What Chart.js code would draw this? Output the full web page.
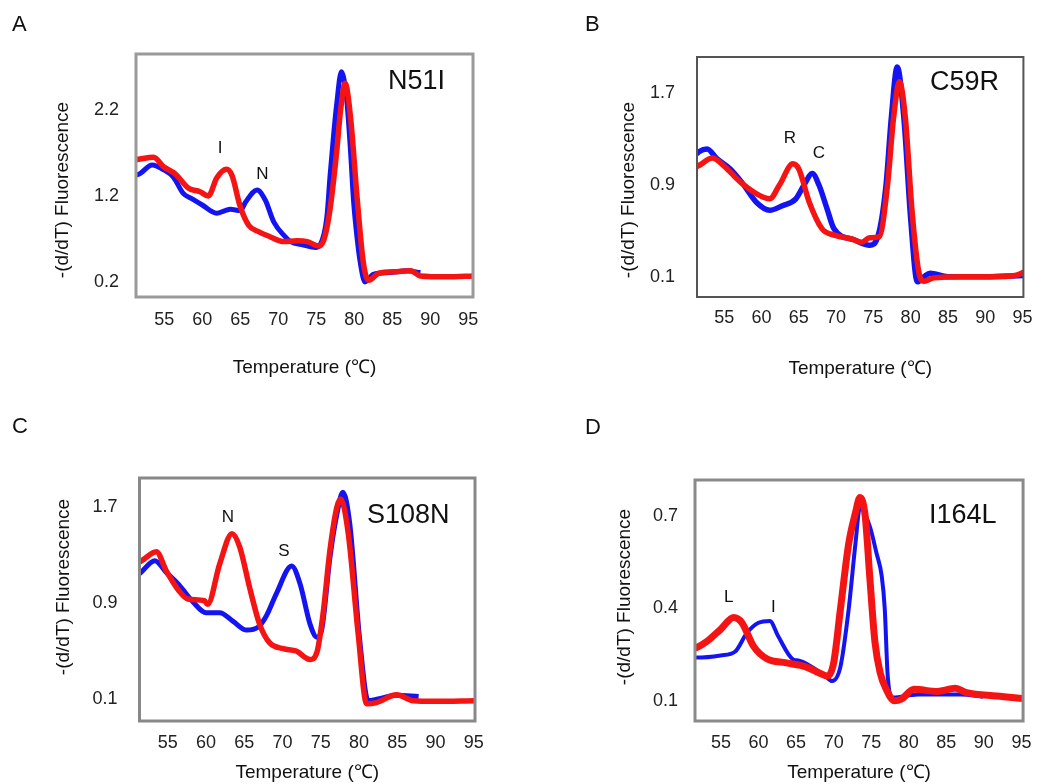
<!DOCTYPE html>
<html>
<head>
<meta charset="utf-8">
<script src="https://cdn.jsdelivr.net/npm/chart.js@4.4.0/dist/chart.umd.min.js"></script>
<style>
  body { margin: 0; background: #fff; }
  #wrap { position: relative; width: 1043px; height: 784px; }
  #wrap canvas { position: absolute; left: 0; top: 0; }
</style>
</head>
<body>
<div id="wrap">
  <canvas id="chart-a" width="1043" height="784"></canvas>
  <canvas id="chart-b" width="1043" height="784"></canvas>
  <canvas id="chart-c" width="1043" height="784"></canvas>
  <canvas id="chart-d" width="1043" height="784"></canvas>
</div>
<script>
// tick labels
const tempTicks = [55, 60, 65, 70, 75, 80, 85, 90, 95];
const yTicksA = [0.2, 1.2, 2.2];
const yTicksB = [0.1, 0.9, 1.7];
const yTicksC = [0.1, 0.9, 1.7];
const yTicksD = [0.1, 0.4, 0.7];

// A: N51I
const aBlueT = [51.2, 51.8, 53.4, 55.0, 56.2, 57.5, 58.6, 60.0, 61.9, 63.0, 63.7, 65.0, 65.7, 67.2, 68.3, 69.4, 70.9, 71.6, 73.3, 74.9, 75.5, 76.4, 76.8, 77.3, 77.7, 78.3, 79.0, 79.5, 79.9, 80.35, 80.8, 81.4, 82.5, 84.7, 86.9, 88.7];
const aBlueV = [1.44, 1.46, 1.56, 1.50, 1.42, 1.23, 1.17, 1.095, 1.0, 1.03, 1.045, 1.03, 1.13, 1.27, 1.15, 0.90, 0.727, 0.67, 0.63, 0.60, 0.63, 0.96, 1.42, 1.93, 2.28, 2.645, 2.32, 1.73, 1.15, 0.727, 0.42, 0.20, 0.29, 0.31, 0.33, 0.31];
const aRedT = [51.2, 51.8, 53.6, 54.9, 56.4, 58.2, 59.7, 60.8, 61.9, 63.2, 63.9, 65.0, 66.1, 67.4, 68.9, 70.7, 72.5, 73.8, 75.3, 76.0, 76.8, 77.7, 78.2, 78.8, 79.5, 80.4, 81.2, 81.9, 83.2, 85.6, 87.4, 88.7, 92.2, 95.8];
const aRedV = [1.62, 1.63, 1.65, 1.54, 1.46, 1.29, 1.25, 1.20, 1.41, 1.51, 1.44, 1.075, 0.86, 0.785, 0.727, 0.67, 0.68, 0.67, 0.62, 0.69, 1.04, 1.73, 2.2, 2.51, 2.12, 1.15, 0.42, 0.22, 0.30, 0.32, 0.33, 0.27, 0.26, 0.27];

// B: C59R
const bBlueT = [51.3, 51.6, 52.7, 54.0, 55.8, 57.5, 59.3, 61.1, 62.8, 64.6, 65.7, 66.8, 67.7, 68.8, 69.7, 72.5, 74.5, 75.6, 76.7, 77.4, 78.2, 79.1, 80.0, 80.9, 81.8, 82.6, 85.0, 90.0, 95.2];
const bBlueV = [1.17, 1.19, 1.215, 1.13, 1.04, 0.91, 0.75, 0.68, 0.72, 0.78, 0.90, 1.0, 0.90, 0.69, 0.52, 0.42, 0.375, 0.45, 0.90, 1.48, 1.93, 1.48, 0.61, 0.055, 0.10, 0.13, 0.10, 0.10, 0.11];
const bRedT = [51.3, 51.6, 53.4, 54.9, 57.1, 59.3, 61.1, 62.4, 64.2, 65.0, 66.4, 68.1, 69.9, 72.1, 73.4, 74.5, 75.8, 76.9, 77.7, 78.5, 79.3, 80.2, 81.1, 81.8, 83.1, 87.0, 91.0, 94.0, 95.2];
const bRedV = [1.06, 1.07, 1.135, 1.07, 0.93, 0.825, 0.78, 0.90, 1.085, 1.04, 0.75, 0.52, 0.46, 0.43, 0.40, 0.44, 0.45, 0.90, 1.48, 1.80, 1.48, 0.665, 0.14, 0.06, 0.09, 0.10, 0.10, 0.11, 0.14];

// C: S108N
const cBlueT = [51.2, 51.5, 53.3, 54.8, 56.5, 58.3, 60.0, 61.8, 63.5, 65.3, 66.8, 67.9, 69.2, 71.2, 72.3, 73.6, 74.5, 75.1, 76.2, 77.1, 77.9, 78.8, 80.1, 81.2, 82.5, 84.9, 87.8];
const cBlueV = [1.14, 1.157, 1.255, 1.157, 1.05, 0.91, 0.82, 0.82, 0.75, 0.675, 0.70, 0.795, 0.98, 1.21, 1.06, 0.725, 0.615, 0.67, 1.28, 1.64, 1.825, 1.56, 0.59, 0.085, 0.10, 0.13, 0.12];
const cRedT = [51.2, 51.5, 53.5, 54.8, 56.5, 57.6, 59.8, 60.2, 61.8, 63.4, 64.4, 65.7, 67.0, 68.3, 70.1, 71.8, 73.6, 74.5, 75.3, 76.2, 77.1, 77.6, 78.6, 79.9, 81.0, 82.3, 84.9, 87.1, 89.8, 95.3];
const cRedV = [1.24, 1.25, 1.33, 1.17, 1.0, 0.935, 0.92, 0.89, 1.23, 1.48, 1.37, 1.03, 0.725, 0.57, 0.52, 0.50, 0.43, 0.49, 0.81, 1.34, 1.70, 1.77, 1.48, 0.64, 0.06, 0.07, 0.135, 0.085, 0.08, 0.085];

// D: I164L
const dBlueT = [51.4, 51.7, 54.95, 56.9, 58.45, 60.0, 61.5, 62.6, 64.6, 65.4, 68.9, 69.8, 70.9, 72.0, 72.9, 73.5, 74.8, 75.7, 76.4, 76.8, 77.2, 77.9, 81.2, 86.9, 89.9];
const dBlueV = [0.24, 0.24, 0.247, 0.26, 0.32, 0.353, 0.359, 0.31, 0.234, 0.23, 0.18, 0.164, 0.21, 0.397, 0.61, 0.727, 0.667, 0.58, 0.505, 0.40, 0.18, 0.11, 0.12, 0.12, 0.113];
const dRedT = [51.4, 51.7, 53.2, 54.95, 56.7, 57.8, 59.3, 61.1, 63.7, 66.3, 68.1, 69.2, 70.0, 70.9, 72.0, 72.9, 73.5, 74.2, 74.8, 75.5, 76.2, 77.0, 78.1, 79.0, 80.7, 83.8, 86.2, 87.7, 91.7, 95.3];
const dRedV = [0.27, 0.272, 0.294, 0.332, 0.37, 0.353, 0.278, 0.236, 0.223, 0.21, 0.19, 0.18, 0.223, 0.397, 0.61, 0.71, 0.76, 0.70, 0.505, 0.29, 0.19, 0.137, 0.10, 0.105, 0.137, 0.13, 0.14, 0.126, 0.115, 0.107];

const FONT = '"Liberation Sans", Arial, Helvetica, sans-serif';
const BLUE = '#1414f2';
const RED = '#f51414';
const Y_TITLE = '-(d/dT) Fluorescence';

const pts = (t, v) => t.map((x, i) => ({ x, y: v[i] }));

// box around the plot area
const framePlugin = {
  id: 'frame',
  afterDatasetsDraw(chart, args, opts) {
    const { ctx, chartArea: a } = chart;
    ctx.save();
    ctx.strokeStyle = opts.color;
    ctx.lineWidth = opts.width;
    ctx.strokeRect(a.left, a.top, a.right - a.left, a.bottom - a.top);
    ctx.restore();
  }
};

// panel letter, mutation name, peak letters, y title
const textPlugin = {
  id: 'panelText',
  afterDraw(chart, args, opts) {
    const ctx = chart.ctx;
    (opts.items || []).forEach(it => {
      ctx.save();
      ctx.fillStyle = '#111';
      ctx.font = it.size + 'px ' + FONT;
      ctx.textAlign = it.align || 'left';
      ctx.textBaseline = it.baseline || 'alphabetic';
      ctx.translate(it.x, it.y);
      if (it.rotate) ctx.rotate(-Math.PI / 2);
      ctx.fillText(it.text, 0, 0);
      ctx.restore();
    });
  }
};

function makePanel(id, p) {
  const yAxisW = 60;
  return new Chart(document.getElementById(id), {
    type: 'line',
    data: {
      datasets: [
        { data: p.red, borderColor: RED, borderWidth: p.redW, pointRadius: 0, cubicInterpolationMode: 'monotone', fill: false },
        { data: p.blue, borderColor: BLUE, borderWidth: p.blueW, pointRadius: 0, cubicInterpolationMode: 'monotone', fill: false }
      ]
    },
    options: {
      responsive: false,
      animation: false,
      events: [],
      layout: {
        padding: { left: p.box.l - yAxisW, top: p.box.t, right: 1043 - p.box.r, bottom: 784 - p.box.b - p.titleH }
      },
      plugins: {
        legend: { display: false },
        tooltip: { enabled: false },
        frame: { color: p.frameColor, width: p.frameW },
        panelText: { items: p.texts }
      },
      scales: {
        x: {
          type: 'linear',
          min: p.xMin,
          max: p.xMax,
          grid: { display: false, drawTicks: false },
          border: { display: false },
          afterBuildTicks: s => { s.ticks = tempTicks.map(value => ({ value })); },
          afterFit: s => { s.height = p.titleH; },
          ticks: { color: '#222', padding: p.xPad, maxRotation: 0, autoSkip: false, font: { family: FONT, size: 18 }, callback: v => String(v) },
          title: { display: true, text: 'Temperature (℃)', color: '#111', padding: 0, font: { family: FONT, size: 19 } }
        },
        y: {
          type: 'linear',
          min: p.yMin,
          max: p.yMax,
          grid: { display: false, drawTicks: false },
          border: { display: false },
          afterBuildTicks: s => { s.ticks = p.yTicks.map(value => ({ value })); },
          afterFit: s => { s.width = yAxisW; },
          ticks: { color: '#222', padding: p.yPad, autoSkip: false, font: { family: FONT, size: 18 }, callback: v => v.toFixed(1) }
        }
      }
    },
    plugins: [framePlugin, textPlugin]
  });
}

const chartA = makePanel('chart-a', {
  box: { l: 136, t: 54, r: 473, b: 297 },
  xMin: 51.28, xMax: 95.62, yMin: 0.026, yMax: 2.85, yTicks: yTicksA,
  xPad: 12, yPad: 17, titleH: 82,
  red: pts(aRedT, aRedV), blue: pts(aBlueT, aBlueV), redW: 5.5, blueW: 5,
  frameColor: '#9a9a9a', frameW: 3,
  texts: [
    { text: 'A', x: 12, y: 31, size: 22 },
    { text: 'N51I', x: 388, y: 89.3, size: 27 },
    { text: 'I', x: 220, y: 152.7, size: 17, align: 'center' },
    { text: 'N', x: 262.5, y: 179.3, size: 17, align: 'center' },
    { text: Y_TITLE, x: 62.3, y: 190, size: 19, rotate: true, align: 'center', baseline: 'middle' }
  ]
});

const chartB = makePanel('chart-b', {
  box: { l: 697, t: 57, r: 1028, b: 297 },
  xMin: 51.34, xMax: 95.13, yMin: -0.077, yMax: 2.017, yTicks: yTicksB,
  xPad: 10.5, yPad: 22, titleH: 83,
  red: pts(bRedT, bRedV), blue: pts(bBlueT, bBlueV), redW: 5.5, blueW: 5.5,
  frameColor: '#555', frameW: 2,
  texts: [
    { text: 'B', x: 585, y: 31, size: 22 },
    { text: 'C59R', x: 930, y: 90, size: 27 },
    { text: 'R', x: 790, y: 142.7, size: 17, align: 'center' },
    { text: 'C', x: 819, y: 158.3, size: 17, align: 'center' },
    { text: Y_TITLE, x: 628.3, y: 190, size: 19, rotate: true, align: 'center', baseline: 'middle' }
  ]
});

const chartC = makePanel('chart-c', {
  box: { l: 139.5, t: 478, r: 475, b: 721 },
  xMin: 51.3, xMax: 95.17, yMin: -0.084, yMax: 1.945, yTicks: yTicksC,
  xPad: 11, yPad: 22, titleH: 63,
  red: pts(cRedT, cRedV), blue: pts(cBlueT, cBlueV), redW: 5.5, blueW: 5,
  frameColor: '#888', frameW: 3,
  texts: [
    { text: 'C', x: 12, y: 433, size: 22 },
    { text: 'S108N', x: 367, y: 522.7, size: 27 },
    { text: 'N', x: 228, y: 521.7, size: 17, align: 'center' },
    { text: 'S', x: 284, y: 556, size: 17, align: 'center' },
    { text: Y_TITLE, x: 63.3, y: 587, size: 19, rotate: true, align: 'center', baseline: 'middle' }
  ]
});

const chartD = makePanel('chart-d', {
  box: { l: 695, t: 480, r: 1029.5, b: 721 },
  xMin: 51.54, xMax: 95.22, yMin: 0.034, yMax: 0.817, yTicks: yTicksD,
  xPad: 11.5, yPad: 17, titleH: 63,
  red: pts(dRedT, dRedV), blue: pts(dBlueT, dBlueV), redW: 7, blueW: 4,
  frameColor: '#8a8a8a', frameW: 3,
  texts: [
    { text: 'D', x: 585, y: 434, size: 22 },
    { text: 'I164L', x: 929, y: 522.7, size: 27 },
    { text: 'L', x: 728.7, y: 601.7, size: 17, align: 'center' },
    { text: 'I', x: 773.3, y: 611.7, size: 17, align: 'center' },
    { text: Y_TITLE, x: 625, y: 597, size: 19, rotate: true, align: 'center', baseline: 'middle' }
  ]
});
</script>
</body>
</html>
